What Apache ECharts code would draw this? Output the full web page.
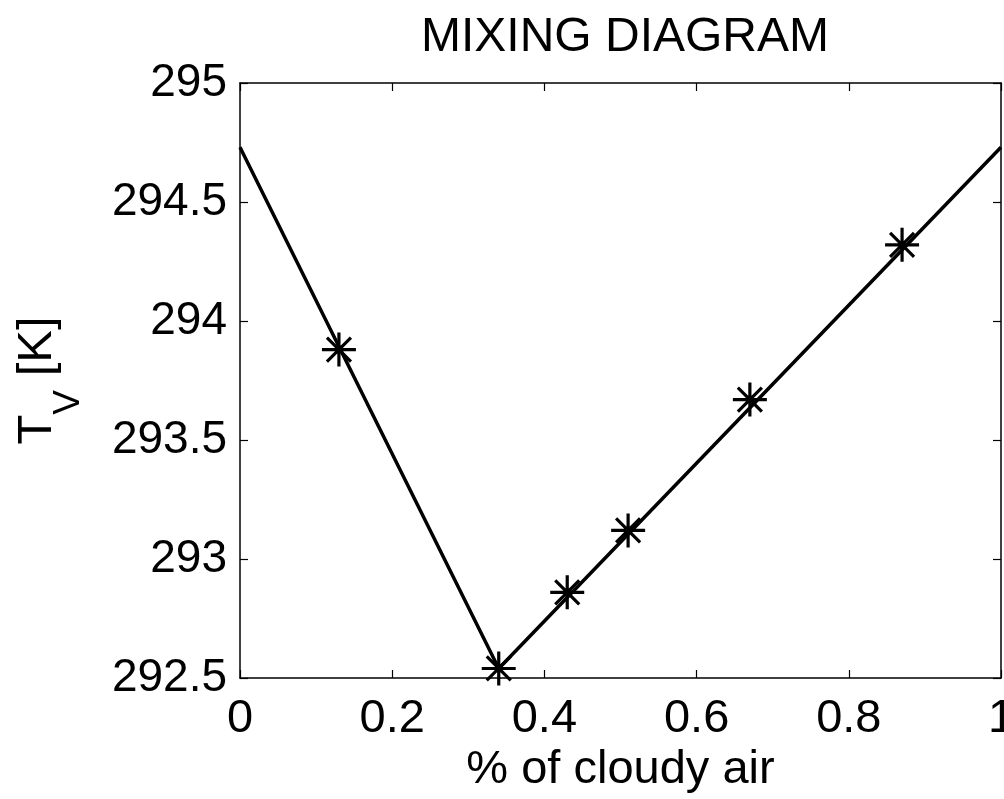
<!DOCTYPE html>
<html>
<head>
<meta charset="utf-8">
<script src="https://cdn.jsdelivr.net/npm/echarts@6/dist/echarts.min.js"></script>
<style>html,body{margin:0;padding:0;background:#fff}#c{width:1004px;height:799px}</style>
</head>
<body>
<div id="c"></div>
<script>
// Mixing line (cloudy fraction vs virtual temperature)
const lineX = [0, 0.34, 1];
const lineY = [294.73, 292.54, 294.73];
// Asterisk markers
const markX = [0.13, 0.34, 0.43, 0.51, 0.67, 0.87];
const markY = [293.88, 292.54, 292.86, 293.12, 293.67, 294.32];
// Axis ticks
const xTicks = [0, 0.2, 0.4, 0.6, 0.8, 1];
const yTicks = [292.5, 293, 293.5, 294, 294.5, 295];

const FONT = '"Liberation Sans", Arial, Helvetica, sans-serif';
const asterisk = 'path://M0,-17L0,17M-17,0L17,0M-12,-12L12,12M-12,12L12,-12';

const chart = echarts.init(document.getElementById('c'), null, {renderer: 'canvas'});
const axisCommon = {
  axisLine: {show: true, onZero: false, lineStyle: {color: '#000', width: 1.5}},
  axisTick: {show: true, inside: true, length: 8, lineStyle: {color: '#000', width: 1.2}},
  splitLine: {show: false},
  nameMoveOverlap: false
};
chart.setOption({
  animation: false,
  backgroundColor: '#fff',
  title: {
    text: 'MIXING DIAGRAM', left: 620, top: 9, textAlign: 'center',
    textStyle: {fontFamily: FONT, fontSize: 48, fontWeight: 'normal', color: '#000'}
  },
  grid: {left: 240, right: 3, top: 83, bottom: 121, containLabel: false, outerBoundsMode: 'none'},
  xAxis: [
    Object.assign({
      type: 'value', position: 'bottom', min: xTicks[0], max: xTicks[xTicks.length - 1],
      interval: xTicks[1] - xTicks[0],
      name: '% of cloudy air', nameLocation: 'middle', nameGap: 69,
      nameTextStyle: {fontFamily: FONT, fontSize: 47, color: '#000'},
      axisLabel: {fontFamily: FONT, fontSize: 47, color: '#000', margin: 18, showMaxLabel: true, showMinLabel: true, hideOverlap: false}
    }, axisCommon),
    Object.assign({
      type: 'value', position: 'top', min: xTicks[0], max: xTicks[xTicks.length - 1],
      interval: xTicks[1] - xTicks[0], axisLabel: {show: false}
    }, axisCommon)
  ],
  yAxis: [
    Object.assign({
      type: 'value', position: 'left', min: yTicks[0], max: yTicks[yTicks.length - 1],
      interval: yTicks[1] - yTicks[0],
      name: '{t|T}{s|V}{t| [K]}', nameLocation: 'middle', nameGap: 153,
      nameTextStyle: {
        fontFamily: FONT, color: '#000',
        rich: {
          t: {fontFamily: FONT, fontSize: 49, color: '#000', verticalAlign: 'top'},
          s: {fontFamily: FONT, fontSize: 37, color: '#000', verticalAlign: 'bottom', lineHeight: 74}
        }
      },
      axisLabel: {fontFamily: FONT, fontSize: 46, color: '#000', margin: 13}
    }, axisCommon),
    Object.assign({
      type: 'value', position: 'right', min: yTicks[0], max: yTicks[yTicks.length - 1],
      interval: yTicks[1] - yTicks[0], axisLabel: {show: false}
    }, axisCommon)
  ],
  series: [
    {
      type: 'line', xAxisIndex: 0, yAxisIndex: 0, silent: true,
      data: lineX.map((x, i) => [x, lineY[i]]),
      symbol: 'none', lineStyle: {color: '#000', width: 3.5}
    },
    {
      type: 'scatter', xAxisIndex: 0, yAxisIndex: 0, silent: true,
      data: markX.map((x, i) => [x, markY[i]]),
      symbol: asterisk, symbolSize: 34,
      itemStyle: {color: 'rgba(0,0,0,0)', borderColor: '#000', borderWidth: 3.2, opacity: 1}
    }
  ]
});
</script>
</body>
</html>
